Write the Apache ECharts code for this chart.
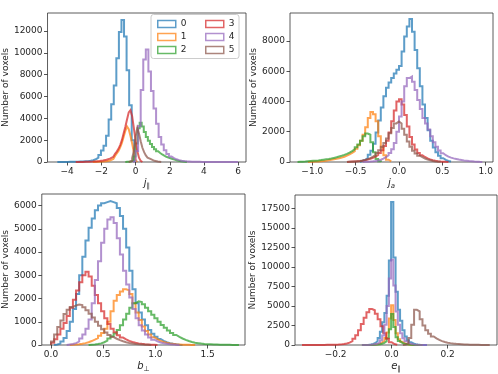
<!DOCTYPE html>
<html>
<head>
<meta charset="utf-8">
<script src="https://cdn.jsdelivr.net/npm/echarts@6/dist/echarts.min.js"></script>
<style>
  html, body { margin: 0; padding: 0; background: #fff; }
  #chart { width: 498px; height: 374px; }
</style>
</head>
<body>
<div id="chart"></div>
<script>
// matplotlib tab10 colours, one per cluster
const colors = ['#1f77b4', '#ff7f0e', '#2ca02c', '#d62728', '#9467bd', '#8c564b'];
const clusters = ['0', '1', '2', '3', '4', '5'];

// j_parallel: first bin edge, bin width, counts per cluster
const jparLo = [-4.575, -2.5, -0.6, -3.5, -0.15, -0.4];
const jparBin = [0.15, 0.1, 0.12, 0.1, 0.15, 0.1];
const jpar0 = [5, 5, 8, 10, 12, 15, 20, 25, 35, 45, 60, 80, 110, 160, 250, 400, 650, 1050, 1500, 2400, 3900, 5300, 7000, 9500, 11900, 13000, 11500, 8400, 5200, 2000];
const jpar1 = [10, 12, 15, 20, 30, 40, 55, 75, 100, 140, 200, 280, 400, 560, 780, 1000, 1350, 1750, 2300, 2850, 3250, 3000, 2400, 1700, 900, 200];
const jpar2 = [15, 30, 60, 150, 500, 1700, 3100, 3600, 3250, 2750, 2300, 1950, 1650, 1380, 1170, 980, 820, 690, 580, 480, 400, 340, 280, 215, 155, 105, 70, 40, 22, 10];
const jpar3 = [5, 5, 8, 10, 12, 15, 18, 22, 28, 35, 45, 55, 70, 85, 105, 130, 160, 200, 250, 310, 390, 480, 600, 750, 950, 1200, 1550, 2000, 2600, 3200, 3900, 4550, 4750, 4200, 3100, 2000, 1000, 400, 100];
const jpar4 = [100, 1000, 3300, 6600, 9400, 10300, 8300, 6500, 4900, 3500, 2300, 1600, 1080, 740, 500, 350, 245, 170, 118, 85, 60, 44, 32, 24, 18, 14, 11, 9, 7, 6, 5, 4, 3, 3, 2, 2, 2, 1, 1, 1, 1];
const jpar5 = [20, 100, 350, 1000, 2300, 3100, 2600, 1900, 1300, 900, 600, 400, 260, 170, 110, 70, 40, 20, 10];

// j_a
const jaLo = [-0.45, -1.05, -1.17, -0.6, -0.42, -0.6];
const jaBin = [0.03, 0.03, 0.03, 0.03, 0.03, 0.03];
const ja0 = [80, 140, 250, 480, 750, 1200, 1950, 2750, 3600, 4350, 4900, 5250, 5550, 5850, 6100, 6350, 7300, 8300, 8950, 9450, 8600, 7400, 6200, 5000, 3800, 2900, 2100, 1400, 950, 650, 420, 250, 140, 70, 30];
const ja1 = [15, 20, 30, 40, 55, 70, 90, 120, 150, 180, 210, 250, 290, 350, 420, 500, 600, 720, 880, 1100, 1400, 1800, 2300, 2900, 3300, 3150, 2700, 1700, 950, 450, 150, 40];
const ja2 = [10, 20, 30, 45, 60, 75, 90, 105, 125, 150, 175, 200, 230, 270, 310, 360, 410, 470, 540, 620, 720, 840, 980, 1150, 1400, 1700, 1880, 1800, 1300, 650, 200, 50];
const ja3 = [20, 30, 40, 55, 70, 90, 120, 160, 210, 280, 360, 460, 600, 780, 1050, 1400, 1950, 2700, 3400, 4000, 4150, 3800, 3100, 2350, 1650, 1150, 820, 600, 440, 330, 240, 170, 120, 80, 55, 35, 20, 10, 5];
const ja4 = [10, 20, 30, 45, 70, 100, 150, 220, 320, 450, 600, 850, 1250, 2000, 3000, 4000, 5000, 5550, 5650, 5300, 4750, 4100, 3500, 2900, 2550, 2150, 1700, 1300, 1000, 760, 580, 450, 360, 290, 240, 200, 160, 130, 100, 80, 60, 45, 30, 20, 10, 5];
const ja5 = [10, 20, 35, 50, 70, 100, 140, 190, 260, 350, 460, 600, 780, 1000, 1250, 1550, 1900, 2250, 2550, 2680, 2550, 2200, 1800, 1350, 1000, 750, 560, 420, 320, 230, 160, 110, 70, 40, 20, 10];

// b_perp
const bperpLo = [0.03, 0.18, 0.36, 0.0, 0.15, 0.0];
const bperpBin = [0.03, 0.03, 0.03, 0.03, 0.03, 0.03];
const bperp0 = [20, 60, 150, 300, 600, 1000, 1550, 2200, 3000, 3800, 4500, 5050, 5450, 5800, 6000, 6100, 6150, 6200, 6150, 6100, 5900, 5550, 5000, 4200, 3200, 2400, 1800, 1400, 1100, 850, 650, 480, 350, 260, 180, 120, 80, 50, 30, 15, 5];
const bperp1 = [10, 20, 35, 55, 80, 120, 170, 230, 300, 400, 520, 700, 1000, 1450, 1900, 2150, 2300, 2400, 2350, 2200, 1800, 1400, 1080, 800, 600, 450, 330, 250, 180, 130, 95, 70, 50, 35, 25, 15, 10, 6, 4, 2];
const bperp2 = [10, 20, 40, 70, 120, 190, 280, 380, 500, 650, 850, 1100, 1350, 1600, 1800, 1880, 1850, 1750, 1600, 1450, 1300, 1150, 1000, 860, 740, 620, 520, 430, 350, 280, 220, 170, 130, 100, 80, 60, 45, 35, 28, 22, 17, 13, 10, 8, 6, 4, 3, 2];
const bperp3 = [100, 250, 450, 700, 950, 1250, 1600, 1950, 2350, 2700, 3000, 3150, 2950, 2550, 2150, 1800, 1450, 1150, 900, 700, 550, 420, 320, 240, 180, 130, 95, 70, 50, 35, 25, 15, 10, 5];
const bperp4 = [20, 40, 80, 150, 280, 450, 700, 1100, 1800, 2800, 3600, 4400, 5000, 5400, 5500, 5250, 4600, 3900, 3200, 2600, 2050, 1550, 1150, 850, 620, 450, 320, 230, 160, 110, 75, 50, 30, 20, 10, 5];
const bperp5 = [150, 450, 780, 1060, 1330, 1520, 1640, 1700, 1740, 1720, 1630, 1500, 1350, 1180, 1000, 830, 680, 540, 430, 340, 270, 210, 160, 120, 90, 65, 45, 30, 20, 12, 8, 4];

// e_parallel
const eparLo = [-0.106, -0.106, -0.106, -0.32, -0.106, 0.04];
const eparBin = [0.008, 0.008, 0.008, 0.01, 0.008, 0.01];
const epar0 = [8, 15, 35, 70, 140, 260, 500, 900, 1700, 2900, 4100, 6300, 10800, 18300, 11200, 6800, 4500, 3100, 1900, 1100, 620, 350, 200, 110, 60, 30, 15, 7, 3];
const epar1 = [2, 4, 8, 15, 30, 55, 100, 180, 320, 550, 900, 1600, 3400, 5100, 3200, 1500, 750, 400, 220, 120, 65, 35, 18, 9, 4, 2, 1];
const epar2 = [1, 2, 4, 8, 15, 28, 50, 90, 160, 280, 480, 850, 2000, 3950, 2300, 1000, 500, 280, 160, 90, 50, 28, 15, 8, 4, 2, 1];
const epar3 = [2, 3, 4, 5, 6, 8, 10, 13, 17, 22, 30, 40, 55, 80, 120, 190, 300, 500, 800, 1250, 1900, 2700, 3500, 4200, 4600, 4450, 4000, 3300, 2400, 1500, 800, 350, 120, 40];
const epar4 = [3, 6, 12, 25, 50, 90, 170, 320, 600, 1200, 2600, 5000, 8500, 10900, 7600, 4300, 2600, 1500, 850, 480, 270, 150, 80, 40, 20, 10, 5, 2, 1];
const epar5 = [30, 200, 900, 2600, 4500, 4300, 3300, 2500, 1900, 1450, 1100, 850, 650, 500, 380, 300, 240, 190, 150, 120, 95, 75, 60, 45, 35, 25, 18, 12, 8, 5, 2];

// axis ticks
const jparTicks = [-4, -2, 0, 2, 4, 6];
const jaTicks = [-1.0, -0.5, 0.0, 0.5, 1.0];
const bperpTicks = [0.0, 0.5, 1.0, 1.5];
const eparTicks = [-0.2, 0.0, 0.2];
const jparCountTicks = [0, 2000, 4000, 6000, 8000, 10000, 12000];
const jaCountTicks = [0, 2000, 4000, 6000, 8000];
const bperpCountTicks = [0, 1000, 2000, 3000, 4000, 5000, 6000];
const eparCountTicks = [0, 2500, 5000, 7500, 10000, 12500, 15000, 17500];

const FONT = 'DejaVu Sans';
const INK = '#262626';

const panels = [
  { lo: jparLo, bin: jparBin, counts: [jpar0, jpar1, jpar2, jpar3, jpar4, jpar5],
    grid: { left: 43, top: 13, width: 203, height: 149 },
    xMin: -5.15, xMax: 6.46, yMax: 13650, xTicks: jparTicks, dec: 0, yTicks: jparCountTicks,
    xName: '{i|j}{s|∥}', yGap: 34 },
  { lo: jaLo, bin: jaBin, counts: [ja0, ja1, ja2, ja3, ja4, ja5],
    grid: { left: 290, top: 13, width: 203, height: 149 },
    xMin: -1.257, xMax: 1.084, yMax: 9846, xTicks: jaTicks, dec: 1, yTicks: jaCountTicks,
    xName: '{i|j}{si|a}', yGap: 30 },
  { lo: bperpLo, bin: bperpBin, counts: [bperp0, bperp1, bperp2, bperp3, bperp4, bperp5],
    grid: { left: 40, top: 194, width: 205, height: 152 },
    xMin: -0.088, xMax: 1.858, yMax: 6500, xTicks: bperpTicks, dec: 1, yTicks: bperpCountTicks,
    xName: '{i|b}{s|⊥}', yGap: 30 },
  { lo: eparLo, bin: eparBin, counts: [epar0, epar1, epar2, epar3, epar4, epar5],
    grid: { left: 295, top: 195, width: 202, height: 151 },
    xMin: -0.345, xMax: 0.376, yMax: 19190, xTicks: eparTicks, dec: 1, yTicks: eparCountTicks,
    xName: '{i|e}{s|∥}', yGap: 37 }
];

// outline of a matplotlib step histogram
function stepPoints(lo, bin, counts) {
  const pts = [[lo, 0]];
  counts.forEach((c, i) => {
    pts.push([lo + i * bin, c]);
    pts.push([lo + (i + 1) * bin, c]);
  });
  pts.push([lo + counts.length * bin, 0]);
  return pts;
}

const fmtNum = (dec) => (v) => (dec ? v.toFixed(dec) : String(Math.round(v))).replace('-', '\u2212');

const grid = panels.map((p) => ({ ...p.grid, show: true, borderColor: '#333', borderWidth: 0.8, backgroundColor: 'transparent' }));

const xAxis = panels.map((p, i) => ({
  type: 'value', gridIndex: i, min: p.xMin, max: p.xMax,
  name: p.xName, nameLocation: 'middle', nameGap: 14,
  nameTextStyle: {
    fontFamily: FONT, color: INK,
    rich: {
      i: { fontFamily: FONT, fontStyle: 'italic', fontSize: 10, lineHeight: 14, color: INK },
      s: { fontFamily: FONT, fontSize: 7, lineHeight: 7, verticalAlign: 'bottom', color: INK },
      si: { fontFamily: FONT, fontStyle: 'italic', fontSize: 7, lineHeight: 7, verticalAlign: 'bottom', color: INK }
    }
  },
  axisLine: { show: false, onZero: false },
  axisTick: { show: true, length: 3.5, customValues: p.xTicks, lineStyle: { color: INK, width: 0.8 } },
  axisLabel: { customValues: p.xTicks, formatter: fmtNum(p.dec), margin: 5, fontFamily: FONT, fontSize: 9, color: INK },
  splitLine: { show: false }
}));

const yAxis = panels.map((p, i) => ({
  type: 'value', gridIndex: i, min: 0, max: p.yMax,
  name: 'Number of voxels', nameLocation: 'middle', nameGap: p.yGap,
  nameTextStyle: { fontFamily: FONT, fontSize: 9, color: INK },
  axisLine: { show: false, onZero: false },
  axisTick: { show: true, length: 3.5, customValues: p.yTicks, lineStyle: { color: INK, width: 0.8 } },
  axisLabel: { customValues: p.yTicks, formatter: fmtNum(0), margin: 5, fontFamily: FONT, fontSize: 9, color: INK },
  splitLine: { show: false }
}));

const series = [];
panels.forEach((p, i) => {
  clusters.forEach((name, k) => {
    series.push({
      type: 'line', name, xAxisIndex: i, yAxisIndex: i,
      data: stepPoints(p.lo[k], p.bin[k], p.counts[k]),
      showSymbol: false, symbol: 'none', silent: true,
      lineStyle: { color: colors[k], width: 2, opacity: 0.72, join: 'miter' },
      itemStyle: { color: colors[k] },
      emphasis: { disabled: true }
    });
  });
});

const legendItem = (name) => ({
  name, icon: 'rect',
  itemStyle: { color: 'rgba(0,0,0,0)', borderColor: colors[+name], borderWidth: 1.5, opacity: 0.72 }
});
const legendBase = {
  orient: 'vertical', top: 17.5, padding: 0, itemGap: 0, itemWidth: 18, itemHeight: 7,
  selectedMode: false,
  textStyle: { fontFamily: FONT, fontSize: 9, lineHeight: 13, color: INK }
};

const chart = echarts.init(document.getElementById('chart'), null, { renderer: 'canvas' });
chart.setOption({
  animation: false,
  backgroundColor: '#fff',
  grid, xAxis, yAxis, series,
  legend: [
    { ...legendBase, left: 157, data: clusters.slice(0, 3).map(legendItem) },
    { ...legendBase, left: 205, data: clusters.slice(3).map(legendItem) }
  ],
  graphic: [{
    type: 'rect', z: -1, silent: true,
    shape: { x: 151, y: 14.5, width: 88, height: 44, r: 2.5 },
    style: { fill: 'rgba(255,255,255,0.8)', stroke: '#cccccc', lineWidth: 1 }
  }]
});
</script>
</body>
</html>
